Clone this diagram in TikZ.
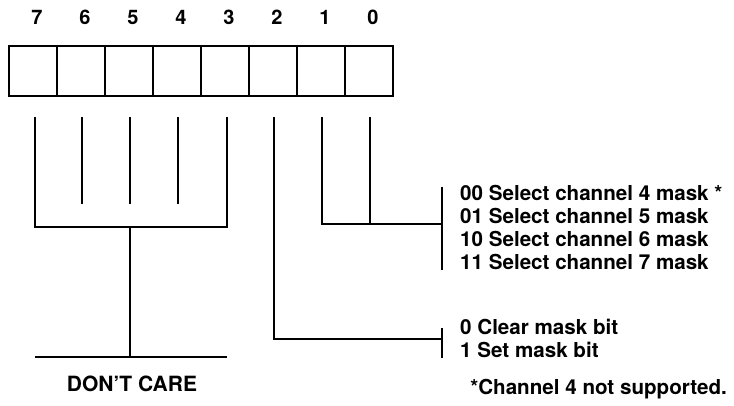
\documentclass[tikz,border=0pt]{standalone}
\usepackage{fontspec}
\setmainfont{TeX Gyre Heros}
\begin{document}
\begin{tikzpicture}[x=1pt,y=-1pt,
  cell/.style={draw,line width=2.6pt,minimum width=48pt,minimum height=50pt,inner sep=0pt},
  wire/.style={line width=2.2pt},
  bitlbl/.style={font=\bfseries\fontsize{20}{22}\selectfont},
  txt/.style={anchor=west,inner sep=0pt,font=\bfseries\fontsize{20.6}{23}\selectfont}]
\useasboundingbox (0,0) rectangle (734,405);
% register cells
\foreach \i/\x in {7/33,6/81,5/129,4/177,3/225,2/273,1/321,0/369}{
  \node[cell] (c\i) at (\x,71) {};
  \node[bitlbl] (l\i) at (\x+4,17) {\i};
}
% tops of wires
\foreach \i/\x in {7/35,6/82,5/130,4/178,3/227,2/274,1/322,0/370}{
  \coordinate (t\i) at (\x,117);
}
% don't care tree
\coordinate (b7) at (35,227);
\coordinate (b3) at (227,227);
\coordinate (bm) at (130,227);
\coordinate (gm) at (130,357);
\coordinate (gl) at (35,357);
\coordinate (gr) at (227,357);
\draw[wire] (t7) -- (b7) -- (b3) -- (t3);
\draw[wire] (t6) -- (82,204);
\draw[wire] (t5) -- (130,204);
\draw[wire] (t4) -- (178,204);
\draw[wire] (bm) -- (gm);
\draw[wire] (gl) -- (gr);
\node[font=\bfseries\fontsize{21}{23}\selectfont,inner sep=0pt] (dc) at (132,384) {DON’T CARE};
% bits 1,0
\coordinate (k1) at (322,224);
\coordinate (k0) at (370,224);
\coordinate (kb) at (442,224);
\coordinate (ka1) at (442,187);
\coordinate (ka2) at (442,270);
\draw[wire] (t1) -- (k1) -- (kb);
\draw[wire] (t0) -- (k0);
\draw[wire] (ka1) -- (ka2);
% bit 2
\coordinate (m2) at (274,339);
\coordinate (mb) at (442,339);
\coordinate (ma1) at (442,328);
\coordinate (ma2) at (442,358);
\draw[wire] (t2) -- (m2) -- (mb);
\draw[wire] (ma1) -- (ma2);
% texts
\node[txt] (s0) at (460,193) {00 Select channel 4 mask *};
\node[txt] (s1) at (460,216) {01 Select channel 5 mask};
\node[txt] (s2) at (460,239) {10 Select channel 6 mask};
\node[txt] (s3) at (460,262) {11 Select channel 7 mask};
\node[txt] (p0) at (460,327) {0 Clear mask bit};
\node[txt] (p1) at (460,350) {1 Set mask bit};
\node[txt,anchor=east] (fn) at (727,389) {*Channel 4 not supported.};
\end{tikzpicture}
\end{document}
